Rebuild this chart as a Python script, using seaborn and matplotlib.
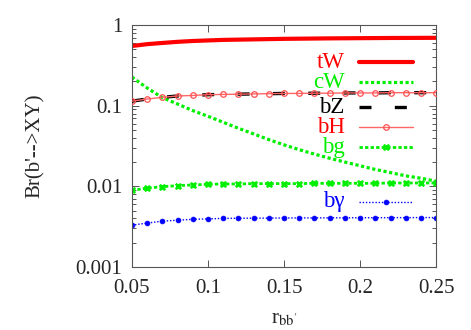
import numpy as np
import pandas as pd
import seaborn as sns
import matplotlib
matplotlib.use('Agg')
import matplotlib.pyplot as plt
from matplotlib.ticker import LogLocator, FixedLocator, NullFormatter

# r_bb' grid and branching ratios
r_bb = [0.05, 0.06, 0.07, 0.08, 0.09, 0.10, 0.11, 0.12, 0.13, 0.14, 0.15,
        0.16, 0.17, 0.18, 0.19, 0.20, 0.21, 0.22, 0.23, 0.24, 0.25]
br_tW = [0.55, 0.58, 0.60, 0.62, 0.635, 0.645, 0.655, 0.66, 0.665, 0.67, 0.675,
         0.678, 0.681, 0.684, 0.686, 0.688, 0.69, 0.692, 0.693, 0.694, 0.695]
br_cW = [0.227, 0.166, 0.126, 0.105, 0.087, 0.074, 0.0624, 0.0525, 0.0447, 0.038, 0.0327,
         0.0285, 0.0251, 0.0223, 0.020, 0.018, 0.0162, 0.0148, 0.0135, 0.0126, 0.0116]
br_bZ = [0.114, 0.121, 0.127, 0.132, 0.134, 0.137, 0.138, 0.139, 0.140, 0.141, 0.142,
         0.142, 0.143, 0.143, 0.144, 0.144, 0.144, 0.145, 0.145, 0.145, 0.145]
br_bH = [0.114, 0.121, 0.127, 0.132, 0.134, 0.137, 0.138, 0.139, 0.140, 0.141, 0.142,
         0.142, 0.143, 0.143, 0.144, 0.144, 0.144, 0.145, 0.145, 0.145, 0.145]
br_bg = [0.0089, 0.0095, 0.0099, 0.0102, 0.0104, 0.0106, 0.0107, 0.0107, 0.0108, 0.0108, 0.0108,
         0.0108, 0.0109, 0.0109, 0.0109, 0.0109, 0.0109, 0.011, 0.011, 0.011, 0.011]
br_ba = [0.0033, 0.0035, 0.0037, 0.0038, 0.0039, 0.00395, 0.0040, 0.00402, 0.00403, 0.00404, 0.00405,
         0.00406, 0.00406, 0.00407, 0.00407, 0.00408, 0.00408, 0.00409, 0.00409, 0.0041, 0.0041]

x_ticks = [0.05, 0.1, 0.15, 0.2, 0.25]
x_ticklabels = ['0.05', '0.1', '0.15', '0.2', '0.25']
y_ticks = [0.001, 0.01, 0.1, 1]
y_ticklabels = ['0.001', '0.01', '0.1', '1']

GREEN = '#00ee00'

sns.set_style('ticks')
plt.rcParams['font.family'] = ['Liberation Serif', 'DejaVu Serif']
plt.rcParams['mathtext.fontset'] = 'stix'

fig = plt.figure(figsize=(4.71, 3.30), dpi=100)
ax = fig.add_axes([0.280, 0.191, 0.646, 0.733])

df = pd.DataFrame({'r': r_bb, 'tW': br_tW, 'cW': br_cW, 'bZ': br_bZ,
                   'bH': br_bH, 'bg': br_bg, 'ba': br_ba})

# estilo de cada canal: (coluna, label, cor, kwargs)
estilos = [
    ('tW', 'tW', '#ff0000', dict(lw=3.0, linestyle='-')),
    ('cW', 'cW', GREEN, dict(lw=2.3, linestyle=(0, (1, 0.8)))),
    ('bZ', 'bZ', 'black', dict(lw=2.4, linestyle=(0, (3.6, 7.0)), zorder=3)),
    ('bH', 'bH', '#ff6666', dict(lw=1.0, linestyle='-', marker='o', markersize=4,
                                 markerfacecolor='none', markeredgecolor='#ff5050',
                                 markeredgewidth=0.9, zorder=4)),
    ('bg', 'bg', GREEN, dict(lw=2.0, linestyle=(0, (1.2, 0.8)), marker='X', markersize=5,
                            markerfacecolor=GREEN, markeredgecolor=GREEN, markeredgewidth=0.5)),
    ('ba', 'b\u03b3', '#0000ff', dict(lw=1.0, linestyle=(0, (1, 1.3)), marker='o',
                                      markersize=3.5, markerfacecolor='#0000ff',
                                      markeredgecolor='#0000ff', markeredgewidth=0.5)),
]

for col, label, cor, kw in estilos:
    sns.lineplot(data=df, x='r', y=col, ax=ax, color=cor, **kw)

ax.set_yscale('log')
ax.set_xlim(0.05, 0.25)
ax.set_ylim(0.001, 1)
ax.xaxis.set_major_locator(FixedLocator(x_ticks))
ax.set_xticklabels(x_ticklabels)
ax.yaxis.set_major_locator(FixedLocator(y_ticks))
ax.set_yticklabels(y_ticklabels)
ax.yaxis.set_minor_locator(LogLocator(base=10, subs=np.arange(2, 10)))
ax.yaxis.set_minor_formatter(NullFormatter())
ax.tick_params(which='both', direction='in', top=True, right=True, labelsize=15,
               color='#555555', width=0.7)
ax.tick_params(which='major', length=5)
ax.tick_params(axis='x', which='major', pad=9)
ax.tick_params(axis='y', which='major', pad=7)
ax.tick_params(which='minor', length=3)
for s in ax.spines.values():
    s.set_color('#555555')
    s.set_linewidth(0.8)

ax.set_xlabel(r"r$_{\rm bb'}$", fontsize=15, labelpad=8)
ax.set_ylabel("Br(b'-->XY)", fontsize=15, labelpad=22)

# legenda manual no estilo do gnuplot (texto colorido à esquerda da amostra)
linhas_leg = [0.847, 0.764, 0.661, 0.578, 0.494, 0.269]
marker_keys = ('marker', 'markersize', 'markerfacecolor', 'markeredgecolor',
               'markeredgewidth', 'zorder')
for (col, label, cor, kw), yl in zip(estilos, linhas_leg):
    txtcor = {'bH': '#ff0000', 'bZ': 'black'}.get(col, cor)
    ax.text(0.70, yl, label, transform=ax.transAxes, ha='right', va='center',
            fontsize=16.5, color=txtcor)
    kw_line = {k: v for k, v in kw.items() if k not in marker_keys}
    ax.plot([0.747, 0.924], [yl, yl], transform=ax.transAxes, color=cor, **kw_line)
    if 'marker' in kw:
        ax.plot([0.836], [yl], transform=ax.transAxes, linestyle='none',
                marker=kw['marker'], markersize=kw['markersize'],
                markerfacecolor=kw['markerfacecolor'],
                markeredgecolor=kw['markeredgecolor'],
                markeredgewidth=kw['markeredgewidth'])

fig.savefig('out.png', dpi=100)
